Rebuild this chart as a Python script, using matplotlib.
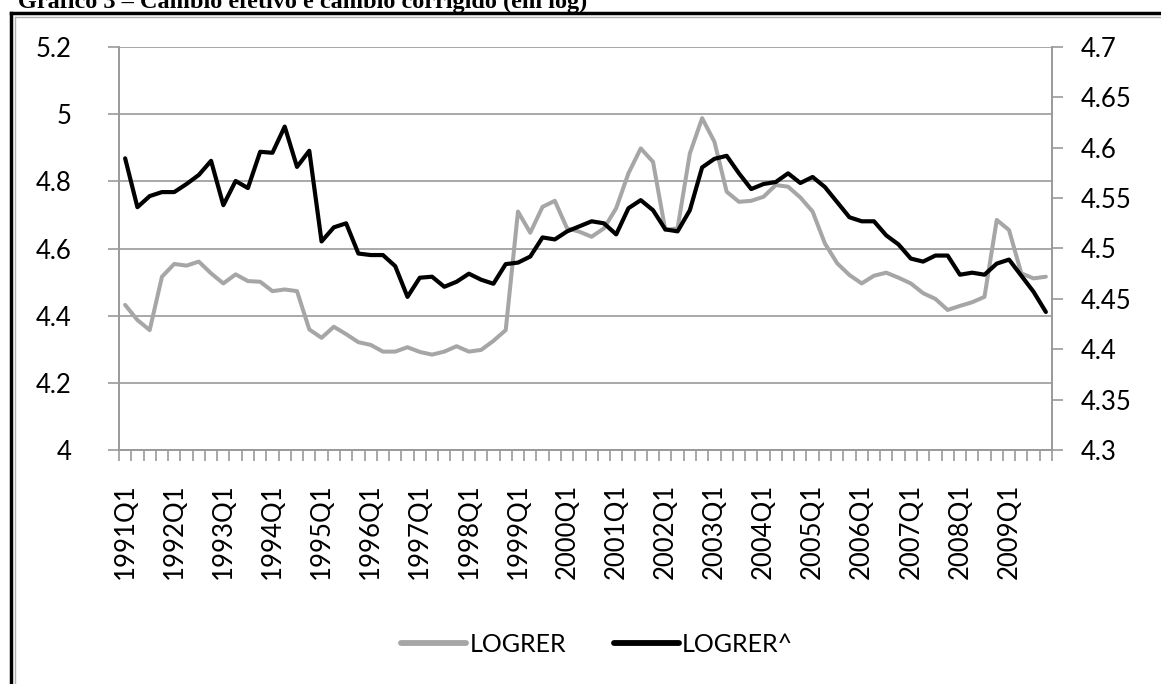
import matplotlib.pyplot as plt
from matplotlib.lines import Line2D
import numpy as np

# quarters 1991Q1 .. 2009Q4
years = list(range(1991, 2010))
quarters = [f"{y}Q{q}" for y in years for q in range(1, 5)]

# LOGRER (left axis)
logrer = [4.432, 4.387, 4.357, 4.516, 4.554, 4.549, 4.561, 4.526, 4.496, 4.523,
          4.503, 4.501, 4.473, 4.478, 4.473, 4.359, 4.334, 4.367, 4.345, 4.321,
          4.313, 4.293, 4.293, 4.306, 4.292, 4.284, 4.293, 4.309, 4.293, 4.298,
          4.325, 4.357, 4.710, 4.647, 4.724, 4.742, 4.660, 4.650, 4.635,
          4.660, 4.720, 4.824, 4.898, 4.858, 4.655, 4.660, 4.883, 4.988, 4.918,
          4.769, 4.739, 4.742, 4.754, 4.789, 4.784, 4.752, 4.710, 4.615,
          4.556, 4.521, 4.496, 4.519, 4.528, 4.513, 4.496, 4.467, 4.450, 4.417,
          4.429, 4.440, 4.456, 4.685, 4.655, 4.526, 4.511, 4.516]

# LOGRER^ (right axis)
logrer_hat = [4.5895, 4.541, 4.552, 4.556, 4.556, 4.564, 4.573, 4.587, 4.543, 4.567,
              4.560, 4.596, 4.595, 4.621, 4.581, 4.597, 4.507, 4.521, 4.525, 4.495,
              4.4935, 4.4935, 4.4825, 4.452, 4.471, 4.472, 4.462, 4.467, 4.475, 4.469,
              4.465, 4.4845, 4.486, 4.492, 4.511, 4.509, 4.517, 4.522, 4.527,
              4.525, 4.514, 4.540, 4.548, 4.538, 4.519, 4.517, 4.538, 4.5805, 4.589,
              4.592, 4.5746, 4.559, 4.564, 4.566, 4.5746, 4.565, 4.571, 4.561,
              4.546, 4.531, 4.527, 4.527, 4.513, 4.504, 4.490, 4.487, 4.493, 4.493,
              4.474, 4.476, 4.474, 4.485, 4.489, 4.473, 4.457, 4.437]

left_ticks = [4, 4.2, 4.4, 4.6, 4.8, 5, 5.2]
right_ticks = [4.3, 4.35, 4.4, 4.45, 4.5, 4.55, 4.6, 4.65, 4.7]

plt.rcParams['font.family'] = ['Lato', 'DejaVu Sans']
axis_gray = '#9a9a9a'

fig = plt.figure(figsize=(11.61, 6.84), dpi=100)
ax = fig.add_axes([119 / 1161, 1 - 450 / 684, (1052 - 119) / 1161, (450 - 47) / 684])
ax2 = ax.twinx()

x = np.arange(len(quarters))
ax.plot(x, logrer, color='#a6a6a6', lw=2.9, solid_joinstyle='round',
        solid_capstyle='round', label='LOGRER')
ax2.plot(x, logrer_hat, color='black', lw=3.0, solid_joinstyle='round',
         solid_capstyle='round', label='LOGRER^')

ax.set_xlim(-0.5, len(quarters) - 0.5)
ax.set_ylim(4, 5.2)
ax2.set_ylim(4.3, 4.7)

ax.set_yticks(left_ticks)
ax.set_yticklabels([f"{v:g}" for v in left_ticks])
ax2.set_yticks(right_ticks)
ax2.set_yticklabels([f"{v:g}" for v in right_ticks])

ax.yaxis.grid(True, color=axis_gray, lw=1.2)
ax.set_axisbelow(True)

# category labels every year, tick marks between categories
ax.set_xticks(x[::4])
ax.set_xticklabels(quarters[::4], rotation=90, fontsize=18.5)
ax.set_xticks(np.arange(-0.5, len(quarters)), minor=True)
ax.tick_params(axis='x', which='major', length=0, pad=24)
ax.tick_params(axis='x', which='minor', length=8, color=axis_gray, width=1.2)
ax.tick_params(axis='y', length=8, color=axis_gray, width=1.2, labelsize=18.5, pad=26)
ax2.tick_params(axis='y', length=8, color=axis_gray, width=1.2, labelsize=18.5, pad=13)

for a in (ax, ax2):
    a.spines['top'].set_visible(False)
    for s in ('left', 'right', 'bottom'):
        a.spines[s].set_color(axis_gray)
        a.spines[s].set_linewidth(1.2)

handles = ax.get_lines() + ax2.get_lines()
leg = fig.legend(handles, [h.get_label() for h in handles], loc='center',
                 bbox_to_anchor=(597 / 1161, 1 - 644 / 684), ncol=2, frameon=False,
                 fontsize=18, handlelength=2.6, handletextpad=0.15, columnspacing=1.9)
for h in leg.get_lines():
    h.set_linewidth(4.2)

# page frame and clipped caption above it
fig.add_artist(Line2D([11 / 1161, 11 / 1161], [0, 1 - 13 / 684], color='black', lw=2.5,
                      transform=fig.transFigure))
fig.add_artist(Line2D([11 / 1161, 1], [1 - 13 / 684, 1 - 13 / 684], color='black', lw=2.5,
                      transform=fig.transFigure))
fig.add_artist(Line2D([15 / 1161, 15 / 1161], [0, 1 - 17 / 684], color='#b0b0b0', lw=1.0,
                      transform=fig.transFigure))
fig.add_artist(Line2D([15 / 1161, 1], [1 - 17 / 684, 1 - 17 / 684], color='#b0b0b0', lw=1.0,
                      transform=fig.transFigure))
fig.text(18 / 1161, 1 - 8 / 684, "Gráfico 3 – Câmbio efetivo e câmbio corrigido (em log)",
         family='Liberation Serif', weight='bold', fontsize=17.5, va='baseline', ha='left')

fig.savefig('out.png', dpi=100)
